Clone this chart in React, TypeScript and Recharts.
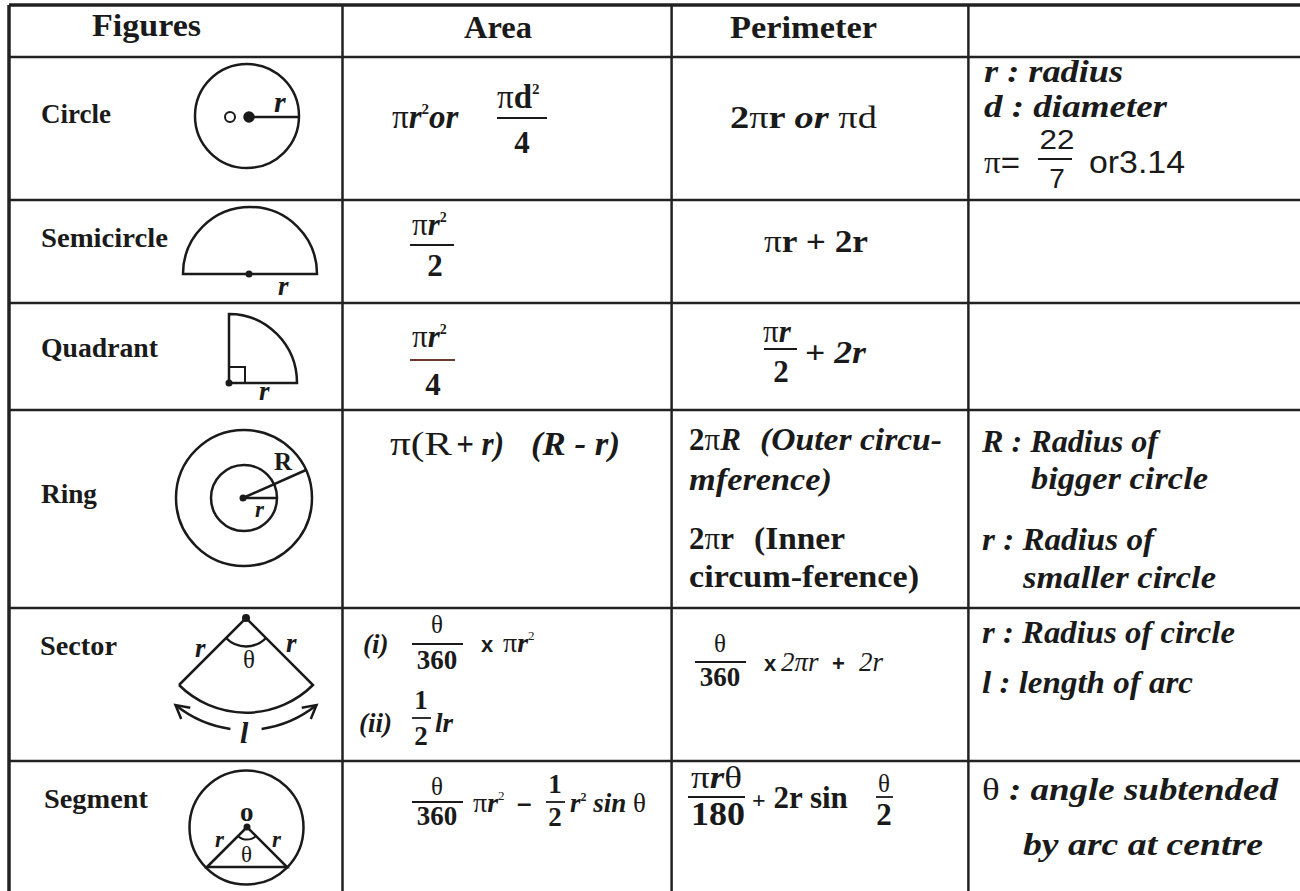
import React from "react";
import { ComposedChart, XAxis, YAxis, ReferenceLine, Customized } from "recharts";

// table text
const headers = ["Figures", "Area", "Perimeter"];
const figureNames = ["Circle", "Semicircle", "Quadrant", "Ring", "Sector", "Segment"];
const circleNotes = ["r : radius", "d : diameter"];
const ringNotes = ["R : Radius of", "bigger circle", "r : Radius of", "smaller circle"];
const sectorNotes = ["r : Radius of circle", "l : length of arc"];
const segmentNotes = ["θ", ": angle subtended", "by arc at centre"];

// layout (pixels)
const W = 1300;
const H = 891;
const LEFT = 9;
const TOP = 5;
const colLines = [342.5, 671.6, 968.4];
const rowLines = [57, 200, 303, 410, 608, 761];

const INK = "#1a1a1a";
const SERIF = "'Liberation Serif', 'DejaVu Serif', serif";
const SANS = "'Liberation Sans', Arial, sans-serif";

const T = ({ x, y, size = 28, w, bold = true, italic = false, anchor, family = SERIF, children }: any) => (
  <text
    x={x}
    y={y}
    fontFamily={family}
    fontSize={size}
    fontWeight={bold ? 700 : 400}
    fontStyle={italic ? "italic" : "normal"}
    fill={INK}
    textAnchor={anchor}
    textLength={w}
    lengthAdjust={w ? "spacingAndGlyphs" : undefined}
  >
    {children}
  </text>
);

const Pi = () => (
  <tspan fontWeight={400} fontStyle="normal">
    π
  </tspan>
);

const Bar = ({ x1, x2, y, color = INK }: any) => (
  <line x1={x1} x2={x2} y1={y} y2={y} stroke={color} strokeWidth={1.8} />
);

const pt = (cx: number, cy: number, r: number, deg: number) => [
  cx + r * Math.cos((deg * Math.PI) / 180),
  cy + r * Math.sin((deg * Math.PI) / 180),
];

const Arrow = ({ tip, dir }: any) => {
  const L = 15;
  const wing = (a: number) => {
    const c = Math.cos(a);
    const s = Math.sin(a);
    const dx = dir[0] * c - dir[1] * s;
    const dy = dir[0] * s + dir[1] * c;
    return [tip[0] - L * dx, tip[1] - L * dy];
  };
  const a = wing(0.5);
  const b = wing(-0.5);
  return (
    <path
      d={`M${a[0]} ${a[1]} L${tip[0]} ${tip[1]} L${b[0]} ${b[1]}`}
      fill="none"
      stroke={INK}
      strokeWidth={2.5}
    />
  );
};

const Figures = () => {
  const sw = 2.5;
  const sc = { cx: 246, cy: 618 };
  const l1 = pt(sc.cx, sc.cy, 112, 129);
  const l2 = pt(sc.cx, sc.cy, 112, 98);
  const r1 = pt(sc.cx, sc.cy, 112, 82);
  const r2 = pt(sc.cx, sc.cy, 112, 51);
  const a129 = (129 * Math.PI) / 180;
  const a51 = (51 * Math.PI) / 180;
  return (
    <g fill="none" stroke={INK} strokeWidth={sw}>
      {/* circle */}
      <circle cx={247} cy={116} r={52} />
      <circle cx={230} cy={117} r={5} strokeWidth={2} fill="#fff" />
      <circle cx={249} cy={117} r={4.5} fill={INK} />
      <line x1={249} y1={117} x2={299} y2={117} />
      {/* semicircle */}
      <path d="M183 274 A67 67 0 0 1 317 274 Z" />
      <circle cx={249} cy={274} r={3.5} fill={INK} stroke="none" />
      {/* quadrant */}
      <path d="M229 314 A68 69 0 0 1 297 383 L229 383 Z" />
      <path d="M229 367 L245 367 L245 383" strokeWidth={2} />
      <circle cx={229} cy={383} r={3.5} fill={INK} stroke="none" />
      {/* ring */}
      <circle cx={244} cy={498} r={68} />
      <circle cx={244} cy={498} r={33} />
      <circle cx={243} cy={498} r={3.5} fill={INK} stroke="none" />
      <line x1={243} y1={498} x2={306} y2={470} />
      <line x1={243} y1={498} x2={277} y2={498} />
      {/* sector */}
      <path d="M179 685 L246 618 L313 685 A95 95 0 0 1 179 685" />
      <circle cx={246} cy={618} r={4} fill={INK} stroke="none" />
      <path d="M226 638 A28 28 0 0 0 266 638" />
      <path d={`M${l1[0]} ${l1[1]} A112 112 0 0 0 ${l2[0]} ${l2[1]}`} />
      <path d={`M${r1[0]} ${r1[1]} A112 112 0 0 0 ${r2[0]} ${r2[1]}`} />
      <Arrow tip={l1} dir={[-Math.sin(a129), Math.cos(a129)]} />
      <Arrow tip={r2} dir={[Math.sin(a51), -Math.cos(a51)]} />
      {/* segment */}
      <circle cx={246.5} cy={827.5} r={57} />
      <circle cx={247} cy={827} r={3.5} fill={INK} stroke="none" />
      <path d="M207 867 L247 827 L287 867 Z" />
      <path d="M238 836 A13 13 0 0 0 256 836" strokeWidth={2} />
    </g>
  );
};

const Texts = () => (
  <g>
    {/* header */}
    <T x={92} y={36} size={32} w={109}>{headers[0]}</T>
    <T x={464} y={38} size={32} w={68}>{headers[1]}</T>
    <T x={730} y={38} size={32} w={147}>{headers[2]}</T>

    {/* figure names */}
    <T x={41} y={123} size={27} w={70}>{figureNames[0]}</T>
    <T x={41} y={247} size={27} w={127}>{figureNames[1]}</T>
    <T x={41} y={357} size={27} w={117}>{figureNames[2]}</T>
    <T x={41} y={503} size={27} w={56}>{figureNames[3]}</T>
    <T x={40} y={655} size={27} w={77}>{figureNames[4]}</T>
    <T x={44} y={808} size={27} w={104}>{figureNames[5]}</T>

    {/* labels inside figures */}
    <T x={274} y={112} size={30} italic>r</T>
    <T x={278} y={295} size={27} italic>r</T>
    <T x={259} y={400} size={27} italic>r</T>
    <T x={274} y={470} size={25}>R</T>
    <T x={255} y={517} size={23} italic>r</T>
    <T x={195} y={657} size={27} italic>r</T>
    <T x={286} y={652} size={27} italic>r</T>
    <T x={243} y={668} size={25} bold={false}>θ</T>
    <T x={240} y={743} size={30} italic>l</T>
    <T x={240} y={821} size={27}>o</T>
    <T x={215} y={847} size={23} italic>r</T>
    <T x={272} y={847} size={23} italic>r</T>
    <T x={241} y={862} size={23} bold={false}>θ</T>

    {/* circle row */}
    <T x={392} y={128} size={33} italic>
      <Pi />r<tspan dy={-14} fontSize={15} fontStyle="normal">2</tspan>
      <tspan dy={14}>or</tspan>
    </T>
    <T x={497} y={108} size={33}>
      <Pi />d<tspan dy={-14} fontSize={15}>2</tspan>
    </T>
    <Bar x1={497} x2={547} y={118} />
    <T x={522} y={153} size={31} anchor="middle">4</T>
    <T x={730} y={128} size={31} w={147}>
      2<Pi />r <tspan fontStyle="italic">or</tspan>{"  "}
      <tspan fontWeight={400}>πd</tspan>
    </T>
    <T x={984} y={82} size={32} italic w={139}>{circleNotes[0]}</T>
    <T x={984} y={117} size={32} italic w={183}>{circleNotes[1]}</T>
    <T x={984} y={173} size={31} bold={false} w={36}>
      π<tspan fontFamily={SANS}>=</tspan>
    </T>
    <T x={1057} y={149} size={27} bold={false} family={SANS} anchor="middle" w={35}>22</T>
    <Bar x1={1038} x2={1072} y={159} />
    <T x={1057} y={188} size={28} bold={false} family={SANS} anchor="middle">7</T>
    <T x={1089} y={173} size={31} bold={false} family={SANS} w={96}>or3.14</T>

    {/* semicircle row */}
    <T x={412} y={235} size={31}>
      <Pi /><tspan fontStyle="italic">r</tspan>
      <tspan dy={-13} fontSize={14}>2</tspan>
    </T>
    <Bar x1={410} x2={454} y={245} />
    <T x={435} y={276} size={31} anchor="middle">2</T>
    <T x={764} y={252} size={31} w={104}>
      <Pi />r + 2r
    </T>

    {/* quadrant row */}
    <T x={412} y={347} size={31}>
      <Pi /><tspan fontStyle="italic">r</tspan>
      <tspan dy={-13} fontSize={14}>2</tspan>
    </T>
    <Bar x1={410} x2={455} y={360} color="#6b3a2e" />
    <T x={433} y={395} size={31} anchor="middle">4</T>
    <T x={763} y={342} size={31}>
      <Pi /><tspan fontStyle="italic">r</tspan>
    </T>
    <Bar x1={764} x2={797} y={349} />
    <T x={781} y={382} size={31} anchor="middle">2</T>
    <T x={805} y={363} size={31} w={61}>
      + <tspan fontStyle="italic">2r</tspan>
    </T>

    {/* ring row */}
    <T x={390} y={455} size={33} bold={false} w={62}>π(R</T>
    <T x={456} y={455} size={33} italic w={48}>+ r)</T>
    <T x={531} y={455} size={33} italic w={89}>(R - r)</T>
    <T x={689} y={450} size={31}>
      2<Pi /><tspan fontStyle="italic">R</tspan>
    </T>
    <T x={760} y={450} size={32} italic w={182}>(Outer circu-</T>
    <T x={689} y={490} size={32} italic w={143}>mference)</T>
    <T x={689} y={549} size={31}>
      2<Pi />r
    </T>
    <T x={754} y={549} size={32} w={91}>(Inner</T>
    <T x={689} y={587} size={32} w={230}>circum-ference)</T>
    <T x={982} y={452} size={32} italic w={176}>{ringNotes[0]}</T>
    <T x={1031} y={489} size={32} italic w={177}>{ringNotes[1]}</T>
    <T x={982} y={550} size={32} italic w={172}>{ringNotes[2]}</T>
    <T x={1023} y={588} size={32} italic w={193}>{ringNotes[3]}</T>

    {/* sector row */}
    <T x={363} y={653} size={27} italic>(i)</T>
    <T x={437} y={633} size={25} bold={false} anchor="middle">θ</T>
    <Bar x1={412} x2={463} y={644} />
    <T x={437} y={669} size={27} anchor="middle">360</T>
    <T x={481} y={652} size={22} family={SANS}>x</T>
    <T x={503} y={652} size={28} bold={false}>
      π<tspan fontWeight={700} fontStyle="italic">r</tspan>
      <tspan dy={-12} fontSize={13}>2</tspan>
    </T>
    <T x={359} y={732} size={27} italic>(ii)</T>
    <T x={421} y={709} size={27} anchor="middle">1</T>
    <Bar x1={412} x2={431} y={718} />
    <T x={421} y={745} size={27} anchor="middle">2</T>
    <T x={435} y={732} size={27} italic>lr</T>

    <T x={720} y={652} size={25} bold={false} anchor="middle">θ</T>
    <Bar x1={695} x2={746} y={662} />
    <T x={720} y={686} size={27} anchor="middle">360</T>
    <T x={764} y={671} size={22} family={SANS}>x</T>
    <T x={781} y={671} size={27} bold={false} italic>2πr</T>
    <T x={832} y={671} size={22} family={SANS}>+</T>
    <T x={859} y={671} size={27} bold={false} italic>2r</T>
    <T x={982} y={643} size={32} italic w={253}>{sectorNotes[0]}</T>
    <T x={982} y={693} size={32} italic w={211}>{sectorNotes[1]}</T>

    {/* segment row */}
    <T x={437} y={795} size={25} bold={false} anchor="middle">θ</T>
    <Bar x1={412} x2={463} y={802} />
    <T x={437} y={825} size={27} anchor="middle">360</T>
    <T x={473} y={812} size={28} bold={false}>
      π<tspan fontWeight={700} fontStyle="italic">r</tspan>
      <tspan dy={-12} fontSize={13}>2</tspan>
    </T>
    <T x={517} y={812} size={26} family={SANS}>–</T>
    <T x={555} y={793} size={27} anchor="middle">1</T>
    <Bar x1={546} x2={565} y={802} />
    <T x={555} y={826} size={27} anchor="middle">2</T>
    <T x={570} y={812} size={27} italic>
      r<tspan dy={-11} fontSize={12} fontStyle="normal">2</tspan>
      <tspan dy={11}> sin </tspan>
      <tspan fontWeight={400} fontStyle="normal">θ</tspan>
    </T>

    <T x={691} y={788} size={31} w={51}>
      <Pi /><tspan fontStyle="italic">r</tspan><tspan fontWeight={400}>θ</tspan>
    </T>
    <Bar x1={688} x2={745} y={797} />
    <T x={691} y={825} size={34} w={54}>180</T>
    <T x={752} y={808} size={31}>
      <tspan fontSize={24}>+</tspan> 2r sin
    </T>
    <T x={884} y={792} size={25} bold={false} anchor="middle">θ</T>
    <Bar x1={876} x2={893} y={797} />
    <T x={884} y={825} size={31} anchor="middle">2</T>
    <T x={982} y={800} size={32} italic w={296}>
      <tspan fontWeight={400} fontStyle="normal">{segmentNotes[0]}</tspan>
      {" "}{segmentNotes[1]}
    </T>
    <T x={1023} y={855} size={32} italic w={240}>{segmentNotes[2]}</T>
  </g>
);

export default function App() {
  const rows = figureNames.map((name) => ({ name }));
  return (
    <div style={{ position: "absolute", left: 0, top: 0, width: W, height: H, background: "#fff" }}>
      <ComposedChart width={W} height={H} data={rows} margin={{ top: 0, right: 0, bottom: 0, left: 0 }}>
        <XAxis type="number" dataKey="x" domain={[0, W]} allowDataOverflow hide />
        <YAxis type="number" domain={[0, H]} allowDataOverflow reversed hide />
        <ReferenceLine
          segment={[{ x: LEFT, y: TOP }, { x: W, y: TOP }]}
          stroke="#222"
          strokeWidth={3.5}
          ifOverflow="extendDomain"
        />
        <ReferenceLine
          segment={[{ x: LEFT, y: TOP }, { x: LEFT, y: H }]}
          stroke="#222"
          strokeWidth={3.5}
          ifOverflow="extendDomain"
        />
        {colLines.map((x) => (
          <ReferenceLine key={`c${x}`} segment={[{ x, y: TOP }, { x, y: H }]} stroke="#222" strokeWidth={2.5} />
        ))}
        {rowLines.map((y) => (
          <ReferenceLine key={`r${y}`} segment={[{ x: LEFT, y }, { x: W, y }]} stroke="#222" strokeWidth={2.5} />
        ))}
        <Customized component={<Figures />} />
        <Customized component={<Texts />} />
      </ComposedChart>
    </div>
  );
}
